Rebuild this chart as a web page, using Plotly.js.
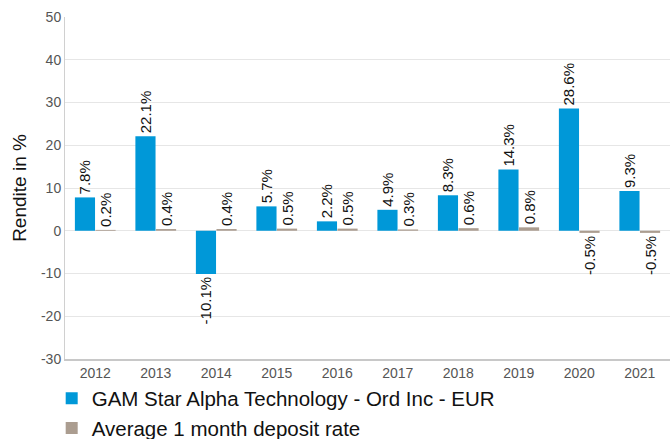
<!DOCTYPE html>
<html><head><meta charset="utf-8">
<script src="https://cdn.plot.ly/plotly-3.0.1.min.js"></script>
<style>body{margin:0;padding:0;background:#fff}#chart{width:672px;height:439px}</style>
</head><body><div id="chart"></div>
<script>
var years = ["2012","2013","2014","2015","2016","2017","2018","2019","2020","2021"];
var fundReturns = [7.8, 22.1, -10.1, 5.7, 2.2, 4.9, 8.3, 14.3, 28.6, 9.3];
var depositRates = [0.2, 0.4, 0.4, 0.5, 0.5, 0.3, 0.6, 0.8, -0.5, -0.5];
var fundName = "GAM Star Alpha Technology - Ord Inc - EUR";
var depositName = "Average 1 month deposit rate";
var yTickVals = [-30, -20, -10, 0, 10, 20, 30, 40, 50];
var yTickText = ["-30", "-20", "-10", "0", "10", "20", "30", "40", "50"];

function pct(v){ return v.toFixed(1) + "%"; }

var font = "Liberation Sans, Arial, sans-serif";
var traces = [
  {type:"bar", name:fundName, x:years, y:fundReturns, text:fundReturns.map(pct),
   textposition:"outside", textangle:-90, constraintext:"none", cliponaxis:false,
   textfont:{family:font, size:15, color:"#111"},
   marker:{color:"#0098d8"}, hoverinfo:"x+y"},
  {type:"bar", name:depositName, x:years, y:depositRates, text:depositRates.map(pct),
   textposition:"outside", textangle:-90, constraintext:"none", cliponaxis:false,
   textfont:{family:font, size:15, color:"#111"},
   marker:{color:"#ab9d90"}, hoverinfo:"x+y"}
];
var layout = {
  width:672, height:439,
  margin:{l:65, r:2, t:17, b:80, autoexpand:false},
  paper_bgcolor:"#fff", plot_bgcolor:"#fff",
  font:{family:font, size:14, color:"#555"},
  barmode:"group", bargap:0.32, bargroupgap:0.02,
  showlegend:true,
  legend:{orientation:"v", x:-0.022, xanchor:"left", y:-0.057, yanchor:"top",
          font:{family:font, size:20.5, color:"#111"}, tracegroupgap:0, itemwidth:30},
  xaxis:{type:"category", showline:true, linecolor:"#c8c8c8", linewidth:2, tickangle:0,
         ticks:"", tickfont:{family:font, size:14, color:"#555"}, showgrid:false},
  yaxis:{range:[-30,50], tickmode:"array", tickvals:yTickVals, ticktext:yTickText,
         showgrid:true, gridcolor:"#e6e6e6",
         zeroline:true, zerolinecolor:"#e6e6e6", zerolinewidth:1,
         showline:true, linecolor:"#d0d0d0", linewidth:1, ticks:"",
         tickfont:{family:font, size:14, color:"#555"},
         title:{text:"Rendite in %", font:{family:font, size:19, color:"#111"}, standoff:9}}
};
Plotly.newPlot("chart", traces, layout, {displayModeBar:false, staticPlot:true});
</script></body></html>
